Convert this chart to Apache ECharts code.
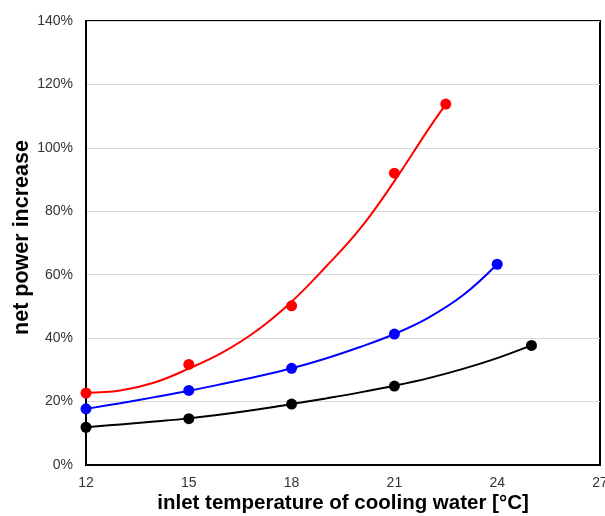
<!DOCTYPE html>
<html>
<head>
<meta charset="utf-8">
<script src="https://cdn.jsdelivr.net/npm/echarts@6/dist/echarts.min.js"></script>
<style>
html,body{margin:0;padding:0;background:#fff;overflow:hidden;}
#c{width:605px;height:516px;}
</style>
</head>
<body>
<div id="c"></div>
<script>
// measured points
const redX = [12, 15, 18, 21, 22.5];
const redY = [22.7, 31.7, 50.2, 92.0, 113.8];
const blueX = [12, 15, 18, 21, 24];
const blueY = [17.7, 23.5, 30.5, 41.3, 63.3];
const blackX = [12, 15, 18, 21, 25];
const blackY = [11.9, 14.6, 19.2, 24.9, 37.7];

// trend curves
const redTrendX = [12, 13, 14, 15, 16, 17, 18, 19, 20, 21, 22, 22.5];
const redTrendY = [22.8, 23.5, 26.0, 30.4, 35.6, 42.5, 51.5, 62.5, 74.5, 89.5, 106.0, 113.7];
const blueTrendX = [12, 13, 14, 15, 16, 17, 18, 19, 20, 21, 22, 23, 24];
const blueTrendY = [17.7, 19.5, 21.4, 23.4, 25.6, 27.9, 30.5, 33.6, 37.2, 41.3, 46.5, 53.5, 63.3];
const blackTrendX = [12, 13, 14, 15, 16, 17, 18, 19, 20, 21, 22, 23, 24, 25];
const blackTrendY = [11.9, 12.8, 13.7, 14.7, 16.0, 17.5, 19.2, 21.0, 22.9, 25.0, 27.4, 30.3, 33.7, 37.7];

const xMin = 12, xMax = 27, xStep = 3;
const yMin = 0, yMax = 140, yStep = 20;

const xTitle = 'inlet temperature of cooling water [°C]';
const yTitle = 'net power increase';

function pairs(xs, ys) { return xs.map((x, i) => [x, ys[i]]); }

const chart = echarts.init(document.getElementById('c'));
const labelFont = { fontFamily: 'Liberation Sans, Arial, sans-serif', fontSize: 14, color: '#333' };

function trend(xs, ys, color) {
  return { type: 'line', data: pairs(xs, ys), smooth: 0.4, showSymbol: false, symbol: 'none',
    lineStyle: { color: color, width: 2 }, itemStyle: { color: color }, z: 2, animation: false };
}
function pts(xs, ys, color, size) {
  return { type: 'scatter', data: pairs(xs, ys), symbol: 'circle', symbolSize: size,
    itemStyle: { color: color, opacity: 1 }, z: 3, animation: false };
}

chart.setOption({
  animation: false,
  backgroundColor: '#fff',
  grid: { left: 86, right: 5, top: 21, bottom: 51, show: true, borderColor: '#000', borderWidth: 2,
    containLabel: false, outerBoundsMode: 'none' },
  xAxis: {
    type: 'value', min: xMin, max: xMax, interval: xStep,
    axisLine: { show: true, lineStyle: { color: '#000', width: 2 } },
    axisTick: { show: false },
    splitLine: { show: false },
    axisLabel: Object.assign({ margin: 11 }, labelFont),
    name: xTitle, nameLocation: 'middle', nameGap: 28, nameMoveOverlap: false,
    nameTextStyle: { fontFamily: 'Liberation Sans, Arial, sans-serif', fontSize: 20.5, fontWeight: 'bold', color: '#000' }
  },
  yAxis: {
    type: 'value', min: yMin, max: yMax, interval: yStep,
    axisLine: { show: true, lineStyle: { color: '#000', width: 2 } },
    axisTick: { show: false },
    splitLine: { show: true, lineStyle: { color: '#d9d9d9', width: 1 } },
    axisLabel: Object.assign({ margin: 13, formatter: '{value}%' }, labelFont),
    name: yTitle, nameLocation: 'middle', nameGap: 53, nameRotate: 90, nameMoveOverlap: false,
    nameTextStyle: { fontFamily: 'Liberation Sans, Arial, sans-serif', fontSize: 21.5, fontWeight: 'bold', color: '#000', padding: [0, 0, 0, 11] }
  },
  series: [
    trend(redTrendX, redTrendY, '#ff0000'),
    trend(blueTrendX, blueTrendY, '#0000ff'),
    trend(blackTrendX, blackTrendY, '#000000'),
    pts(redX, redY, '#ff0000', 11),
    pts(blueX, blueY, '#0000ff', 11),
    pts(blackX, blackY, '#000000', 11)
  ]
});
</script>
</body>
</html>
